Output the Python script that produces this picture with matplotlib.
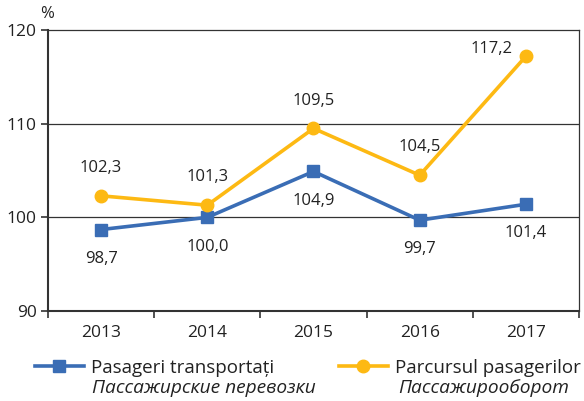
import matplotlib.pyplot as plt
import numpy as np

plt.rcParams["font.family"] = ["Open Sans", "DejaVu Sans"]

years = ["2013", "2014", "2015", "2016", "2017"]
pasageri = [98.7, 100.0, 104.9, 99.7, 101.4]
parcurs = [102.3, 101.3, 109.5, 104.5, 117.2]
pasageri_lbl = ["98,7", "100,0", "104,9", "99,7", "101,4"]
parcurs_lbl = ["102,3", "101,3", "109,5", "104,5", "117,2"]

blue = "#3A6DB5"
yellow = "#FDB913"
dark = "#333333"
txt = "#222222"

fig = plt.figure(figsize=(5.84, 4.01), dpi=100)
ax = fig.add_axes([0.0822, 0.2244, 0.9092, 0.7006])

x = np.arange(len(years))
ax.plot(x, pasageri, color=blue, lw=2.6, marker="s", ms=9, label="Pasageri transportați")
ax.plot(x, parcurs, color=yellow, lw=2.6, marker="o", ms=9, label="Parcursul pasagerilor")

for i in range(len(years)):
    ax.annotate(pasageri_lbl[i], (x[i], pasageri[i]), xytext=(0, -21), textcoords="offset points",
                ha="center", va="center", fontsize=12, color=txt)
    if i == 4:
        ax.annotate(parcurs_lbl[i], (x[i], parcurs[i]), xytext=(-25, 5), textcoords="offset points",
                    ha="center", va="center", fontsize=12, color=txt)
    else:
        ax.annotate(parcurs_lbl[i], (x[i], parcurs[i]), xytext=(0, 20), textcoords="offset points",
                    ha="center", va="center", fontsize=12, color=txt)

ax.set_xlim(-0.5, 4.5)
ax.set_ylim(90, 120)
ax.set_yticks([90, 100, 110, 120])
ax.set_xticks(x)
ax.set_xticklabels(years)
ax.set_xticks(np.arange(-0.5, 5, 1), minor=True)
ax.tick_params(axis="x", which="major", length=0, pad=10, labelsize=12.5, colors=txt)
ax.tick_params(axis="x", which="minor", length=5, width=1.2, direction="out", color=dark)
ax.tick_params(axis="y", length=5, width=1.2, direction="out", color=dark, labelsize=12.5,
               labelcolor=txt, pad=3)

for y in [100, 110]:
    ax.axhline(y, color=dark, lw=0.9, zorder=0)
for side in ["top", "right"]:
    ax.spines[side].set_color(dark)
    ax.spines[side].set_linewidth(0.9)
for side in ["left", "bottom"]:
    ax.spines[side].set_color(dark)
    ax.spines[side].set_linewidth(1.5)

fig.text(0.068, 0.965, "%", fontsize=12, ha="left", va="center", color=txt)

leg = fig.legend(loc="upper left", bbox_to_anchor=(0.06, 0.105), ncol=2, frameon=False,
                 fontsize=13.5, handlelength=2.6, columnspacing=3.45, handletextpad=0.4,
                 borderaxespad=0, borderpad=0)
for t in leg.get_texts():
    t.set_color(txt)

fig.text(0.157, 0.032, "Пассажирские перевозки", fontsize=13.8, style="italic", ha="left",
         va="center", color=txt)
fig.text(0.682, 0.032, "Пассажирооборот", fontsize=13.8, style="italic", ha="left",
         va="center", color=txt)

fig.savefig("out.png", dpi=100)
